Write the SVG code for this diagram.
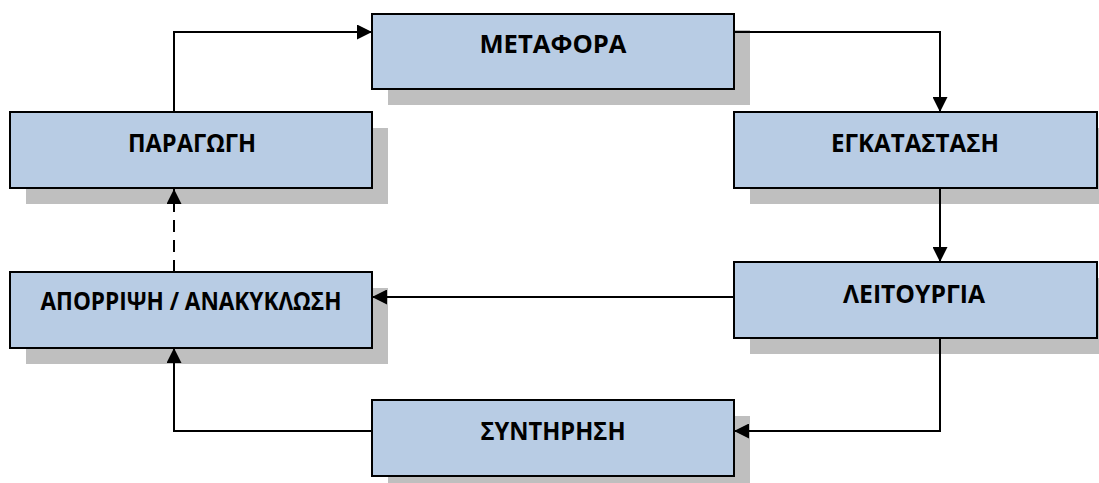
<svg xmlns="http://www.w3.org/2000/svg" width="1099" height="483" viewBox="0 0 1099 483">
<style>
.shadow{fill:#bfbfbf;stroke:none}
.box{fill:#b8cce4;stroke:#000;stroke-width:2}
.lbl{font-family:"Open Sans","Noto Sans","Liberation Sans",sans-serif;font-weight:bold;font-size:25px;fill:#000;text-anchor:middle}
.con{fill:none;stroke:#000;stroke-width:2}
.dash{stroke-dasharray:12 8}
</style>
<defs>
<marker id="arr" viewBox="0 0 15 15" refX="15" refY="7.5" markerWidth="15" markerHeight="15" markerUnits="userSpaceOnUse" orient="auto">
<path d="M0,0 L15,7.5 L0,15 Z" fill="#000"/>
</marker>
</defs>
<g id="shadows">
<rect class="shadow" x="388" y="30" width="362" height="75"/>
<rect class="shadow" x="26" y="128" width="362" height="76"/>
<rect class="shadow" x="750" y="128" width="349" height="76"/>
<rect class="shadow" x="750" y="278" width="349" height="76"/>
<rect class="shadow" x="26" y="288" width="362" height="76"/>
<rect class="shadow" x="388" y="416" width="362" height="67"/>
</g>
<g id="node-metafora">
<rect class="box" x="372" y="14" width="362" height="75"/>
<text class="lbl" x="553" y="53" textLength="147" lengthAdjust="spacingAndGlyphs">ΜΕΤΑΦΟΡΑ</text>
</g>
<g id="node-paragogi">
<rect class="box" x="10" y="112" width="362" height="76"/>
<text class="lbl" x="192" y="152" textLength="128" lengthAdjust="spacingAndGlyphs">ΠΑΡΑΓΩΓΗ</text>
</g>
<g id="node-egkatastasi">
<rect class="box" x="734" y="112" width="363" height="76"/>
<text class="lbl" x="915" y="152" textLength="168" lengthAdjust="spacingAndGlyphs">ΕΓΚΑΤΑΣΤΑΣΗ</text>
</g>
<g id="node-leitourgia">
<rect class="box" x="734" y="262" width="363" height="76"/>
<text class="lbl" x="914" y="303" textLength="142" lengthAdjust="spacingAndGlyphs">ΛΕΙΤΟΥΡΓΙΑ</text>
</g>
<g id="node-aporripsi">
<rect class="box" x="10" y="272" width="362" height="76"/>
<text class="lbl" x="191" y="310" textLength="301" lengthAdjust="spacingAndGlyphs">ΑΠΟΡΡΙΨΗ / ΑΝΑΚΥΚΛΩΣΗ</text>
</g>
<g id="node-syntirisi">
<rect class="box" x="372" y="400" width="362" height="76"/>
<text class="lbl" x="553" y="440" textLength="145" lengthAdjust="spacingAndGlyphs">ΣΥΝΤΗΡΗΣΗ</text>
</g>
<g id="connectors">
<path class="con" d="M174,112 V32 H372" marker-end="url(#arr)"/>
<path class="con" d="M734,32 H940 V112" marker-end="url(#arr)"/>
<path class="con" d="M940,188 V262" marker-end="url(#arr)"/>
<path class="con" d="M734,297 H372" marker-end="url(#arr)"/>
<path class="con" d="M940,338 V431 H734" marker-end="url(#arr)"/>
<path class="con" d="M372,431 H174 V348" marker-end="url(#arr)"/>
<path class="con dash" d="M174,272 V189" marker-end="url(#arr)"/>
</g>
</svg>
